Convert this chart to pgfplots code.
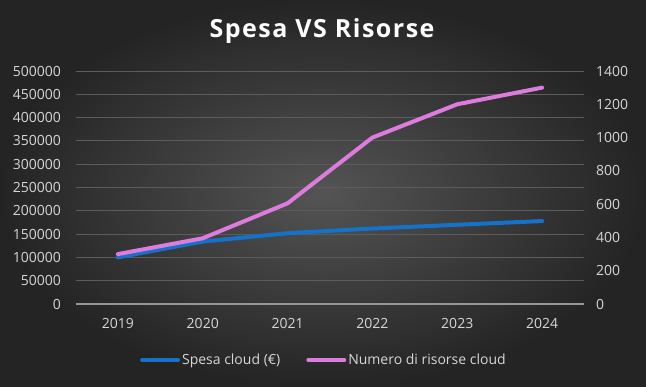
\documentclass[border=0pt]{standalone}
\usepackage{pgfplots}
\pgfplotsset{compat=1.18}
\usepackage{fontspec}
\setmainfont{Open Sans}
\definecolor{spesablue}{RGB}{22,114,200}
\definecolor{risorsepink}{RGB}{222,124,222}
\definecolor{labgray}{RGB}{214,214,214}
\definecolor{gridgray}{RGB}{92,92,92}
\definecolor{zerogray}{RGB}{150,150,150}
\pgfplotsset{
  common/.style={
    at={(75.5bp,83bp)}, anchor=south west,
    scale only axis, width=509bp, height=233bp,
    xmin=-0.5, xmax=5.5,
    xtick={0,1,2,3,4,5},
    xticklabels={2019,2020,2021,2022,2023,2024},
    major tick length=0pt,
    scaled y ticks=false,
    /pgf/number format/fixed,
    /pgf/number format/1000 sep={},
    /pgf/number format/assume math mode=true,
    tick label style={text=labgray, font=\fontsize{14bp}{16bp}\selectfont},
    clip=false,
  }
}
\begin{document}
\begin{tikzpicture}
\shade[inner color={rgb,255:red,84;green,84;blue,84}, outer color={rgb,255:red,36;green,36;blue,36}] (0,0) rectangle (646bp,387bp);
\path[use as bounding box] (0,0) rectangle (646bp,387bp);
\node[text=white, font=\fontsize{25bp}{29bp}\selectfont\bfseries\addfontfeature{LetterSpace=6}] at (322bp,356bp) {Spesa VS Risorse};
\begin{axis}[common,
  ymin=0, ymax=500000, ytick distance=50000,
  ymajorgrids, grid style={draw=gridgray, line width=0.8bp},
  separate axis lines,
  axis x line*=bottom,
  x axis line style={draw=zerogray, line width=1.3bp, -},
  y axis line style={draw=none},
  xticklabel style={yshift=-11bp},
  yticklabel style={xshift=-11bp},
]
\addplot[spesablue, line width=4bp, line cap=round, line join=round] coordinates {
(0,100000) (1,134000) (2,152000) (3,162000) (4,170000) (5,178000)};
\end{axis}
\begin{axis}[common,
  ymin=0, ymax=1400, ytick distance=200,
  axis y line*=right,
  axis x line=none,
  y axis line style={draw=none},
  yticklabel style={xshift=8bp},
  legend columns=2,
  legend style={at={(0.488,-0.24)}, anchor=center, draw=none, fill=none,
    text=labgray, font=\fontsize{14bp}{16bp}\selectfont,
    /tikz/every even column/.append style={column sep=24bp},
    inner sep=0pt},
  legend cell align=left,
  legend image code/.code={\draw[#1, line width=4bp, line cap=round] (0bp,0bp) -- (36bp,0bp);},
]
\addlegendimage{spesablue}
\addlegendentry[xshift=-5bp]{Spesa cloud (€)}
\addplot[risorsepink, line width=4bp, line cap=round, line join=round] coordinates {
(0,300) (1,395) (2,605) (3,1000) (4,1200) (5,1300)};
\addlegendentry[xshift=-5bp]{Numero di risorse cloud}
\end{axis}
\end{tikzpicture}
\end{document}
